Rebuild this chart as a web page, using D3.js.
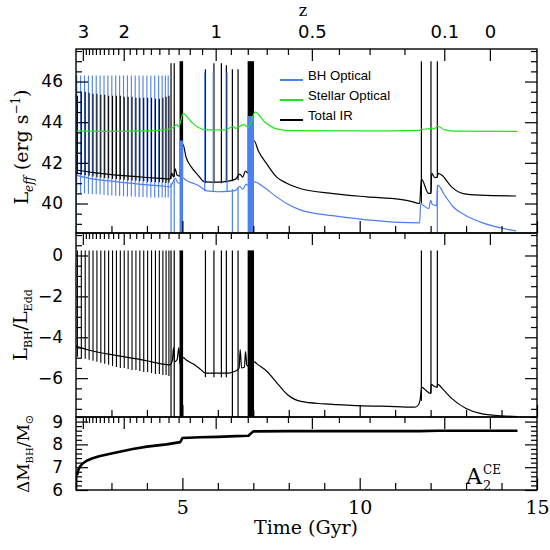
<!DOCTYPE html>
<html><head><meta charset="utf-8">
<script src="https://cdn.jsdelivr.net/npm/d3@7"></script>
<style>body{margin:0;background:#fff}svg{display:block}</style>
</head><body>
<svg id="c" width="550" height="550"></svg>
<script>
// ---------------- DATA ----------------
// time (Gyr) tick values
const timeMajor = [5, 10, 15];
const timeMinor = [3, 4, 6, 7, 8, 9, 11, 12, 13, 14];
// redshift ticks (label, time in Gyr)
const zLabels = ["3", "2", "1", "0.5", "0.1", "0"];
const zLabelTimes = [2.193, 3.346, 5.939, 8.651, 12.385, 13.671];
const zMinorTimes = [2.277, 2.366, 2.461, 2.562, 2.671, 2.787, 2.912, 3.046, 3.190,
  3.515, 3.698, 3.896, 4.113, 4.350, 4.609, 4.894, 5.208, 5.555,
  6.367, 6.844, 7.378, 7.977, 9.414, 10.279, 11.262];

// periodic burst epochs
const burstTimes = [2.04,2.15,2.26,2.37,2.48,2.59,2.70,2.81,2.92,3.03,3.14,3.25,3.36,3.47,3.58,3.69,3.80,3.91,4.02,4.13,4.24,4.35,4.45,4.54,4.62];
const irBurstPeak = [45.3,45.45,45.5,45.45,45.4,45.4,45.35,45.35,45.3,45.3,45.3,45.3,45.25,45.25,45.25,45.2,45.2,45.2,45.2,45.2,45.15,45.15,45.2,45.25,45.3];
const irBurstLow = [41.45,41.42,41.39,41.36,41.33,41.3,41.28,41.26,41.24,41.22,41.2,41.18,41.17,41.15,41.13,41.12,41.1,41.09,41.07,41.06,41.05,41.04,41.03,41.02,41.02];
const bhBurstTimes = [2.02,2.13,2.24,2.35,2.46,2.57,2.68,2.79,2.90,3.01,3.12,3.23,3.34,3.45,3.56,3.67,3.78,3.89,4.00,4.11,4.22,4.33,4.43,4.52,4.60];
const bhBurstPeak = [46.3,46.3,46.3,46.3,46.3,46.3,46.3,46.3,46.3,46.3,46.3,46.3,46.3,46.3,46.3,46.3,46.3,46.3,46.3,46.3,46.3,46.3,46.3,46.3,46.3];
const bhBurstLow = [40.55,40.5,40.5,40.48,40.46,40.45,40.44,40.42,40.4,40.4,40.38,40.37,40.36,40.35,40.34,40.33,40.32,40.32,40.31,40.3,40.3,40.3,40.3,40.3,40.3];
const eddBurstPeak = [0.25,0.25,0.25,0.25,0.25,0.25,0.25,0.25,0.25,0.25,0.25,0.25,0.25,0.25,0.25,0.25,0.25,0.25,0.25,0.25,0.25,0.25,0.25,0.25,0.25];
const eddBurstLow = [-4.95,-5.0,-5.05,-5.1,-5.15,-5.2,-5.25,-5.3,-5.35,-5.4,-5.45,-5.5,-5.5,-5.55,-5.6,-5.6,-5.65,-5.7,-5.7,-5.75,-5.8,-5.8,-5.85,-5.85,-5.9];

// individual later spikes [t, low, high]
const irSpikes = [[4.68,41.2,46.9],[4.77,41.3,46.9],[5.65,41.0,46.6],[5.89,41.0,46.9],[6.10,41.0,46.9],[6.24,41.05,46.8],[6.41,41.1,46.6],[6.57,41.15,46.6],[11.74,40.0,47.0],[12.01,40.5,47.0],[12.19,41.28,47.0]];
const bhSpikes = [[2.005,38.55,46.3],[4.68,38.55,41.0],[4.77,38.55,41.2],[5.63,40.6,46.45],[5.87,40.6,46.45],[6.26,40.6,46.45],[6.41,38.55,40.7],[6.57,38.55,40.8],[12.19,38.55,40.9]];
const eddSpikes = [[4.68,-7.9,0.25],[4.77,-7.9,0.25],[5.65,-5.95,0.25],[5.89,-5.95,0.25],[6.10,-5.95,0.25],[6.24,-5.95,0.25],[6.41,-7.9,0.25],[6.57,-7.9,0.25],[11.74,-7.1,0.25],[12.01,-6.75,0.25],[12.19,-6.45,0.25]];
// dense burst episodes [t0, t1, low, high]
const irBands = [[4.92,5.02,41.3,47.0],[6.84,7.02,41.5,47.0]];
const bhBands = [[4.92,5.02,38.55,43.1],[6.84,7.02,38.55,44.3]];
const eddBands = [[4.92,5.02,-7.9,0.25],[6.84,7.02,-7.9,0.25]];

// smooth curves [t, value]
const irCurve = [[2.0,41.65],[2.5,41.52],[3.0,41.42],[3.5,41.35],[4.0,41.28],[4.5,41.22],[4.65,41.2],[4.7,41.5],[4.75,41.3],[4.8,41.7],[4.85,41.4],[4.92,41.35],
  [5.02,42.9],[5.1,42.3],[5.25,41.8],[5.44,41.4],[5.63,41.06],[6.0,41.05],[6.3,41.1],[6.5,41.2],[6.62,41.45],[6.7,41.3],[6.78,41.6],[6.84,41.5],
  [7.02,43.1],[7.14,42.6],[7.38,41.95],[7.66,41.3],[7.94,41.0],[8.32,40.74],[9.25,40.49],[10.2,40.33],[11.14,40.2],[11.5,40.08],[11.69,40.0],
  [11.74,41.2],[11.94,40.5],[12.01,40.5],[12.03,41.48],[12.12,41.28],[12.19,41.3],[12.21,41.48],[12.31,41.4],[12.59,40.82],[12.92,40.49],[13.39,40.41],[14.41,40.37]];
const bhCurve = [[2.0,41.4],[2.5,41.2],[3.0,41.1],[3.5,41.0],[4.0,40.92],[4.5,40.85],[4.65,40.82],[4.72,41.0],[4.8,41.25],[4.86,41.05],[4.92,41.0],
  [5.02,41.25],[5.1,41.15],[5.44,40.9],[5.7,40.62],[6.0,40.58],[6.3,40.6],[6.5,40.65],[6.62,40.85],[6.7,40.7],[6.8,40.95],[6.84,40.9],
  [7.03,41.06],[7.3,40.8],[7.6,40.4],[7.94,40.0],[8.3,39.7],[9.24,39.4],[10.2,39.2],[11.1,39.07],[11.69,39.05],[11.72,40.0],[11.8,39.9],[11.95,39.75],
  [12.0,40.15],[12.05,39.95],[12.17,39.9],[12.2,40.9],[12.4,40.4],[12.64,39.83],[13.0,39.4],[13.39,39.1],[14.41,38.65]];
const starCurve = [[2.0,43.57],[3.0,43.55],[4.0,43.57],[4.6,43.65],[4.75,43.75],[4.84,43.88],[4.9,43.78],[5.02,44.42],[5.26,44.0],[5.44,43.75],[5.68,43.62],[6.2,43.62],
  [6.43,43.78],[6.5,43.7],[6.72,43.88],[6.86,43.75],[7.05,44.5],[7.33,44.0],[7.66,43.67],[8.03,43.59],[10.0,43.57],[11.7,43.6],[11.75,43.65],[11.98,43.68],
  [12.03,43.72],[12.1,43.66],[12.2,43.8],[12.4,43.62],[12.7,43.56],[14.45,43.55]];
const eddCurve = [[2.0,-4.43],[2.3,-4.6],[2.6,-4.72],[3.0,-4.85],[3.5,-5.0],[4.0,-5.15],[4.4,-5.3],[4.65,-5.35],[4.72,-5.1],[4.75,-4.5],[4.78,-5.2],[4.85,-5.1],[4.9,-4.5],[4.93,-5.3],
  [5.03,-5.0],[5.1,-5.1],[5.3,-5.3],[5.5,-5.55],[5.65,-5.75],[6.0,-5.75],[6.3,-5.75],[6.5,-5.65],[6.6,-5.5],[6.63,-4.6],[6.67,-5.5],[6.75,-5.45],[6.78,-4.7],[6.82,-5.4],
  [7.03,-5.2],[7.1,-5.3],[7.38,-5.66],[7.7,-6.3],[7.96,-6.8],[8.34,-7.14],[9.0,-7.26],[9.95,-7.34],[11.0,-7.39],[11.56,-7.42],[11.66,-7.3],[11.7,-7.1],
  [11.75,-6.45],[11.9,-6.65],[12.0,-6.75],[12.02,-6.3],[12.1,-6.4],[12.18,-6.45],[12.2,-6.3],[12.35,-6.55],[12.6,-7.0],[13.0,-7.48],[13.4,-7.72],[14.0,-7.84],[14.45,-7.88]];
const massCurve = [[2.0,6.0],[2.005,6.65],[2.04,6.7],[2.06,6.85],[2.1,7.0],[2.18,7.15],[2.3,7.28],[2.45,7.38],[2.65,7.48],[3.0,7.6],[3.3,7.7],[3.6,7.8],[4.0,7.9],[4.55,8.0],[4.94,8.1],
  [5.0,8.28],[5.5,8.31],[6.0,8.33],[6.5,8.36],[6.86,8.38],[7.0,8.57],[8.0,8.58],[11.7,8.58],[12.2,8.6],[14.45,8.6]];

const legendNames = ["BH Optical", "Stellar Optical", "Total IR"];
const legendColors = ["#4d7ff0", "#1ee61e", "#000000"];

// ---------------- DRAW ----------------
const svg = d3.select("#c");
const BLUE = legendColors[0], GREEN = legendColors[1];
const x = d3.scaleLinear().domain([2, 15]).range([76, 537]);
const y1 = d3.scaleLinear().domain([38.55, 47.6]).range([233, 49]);
const y2 = d3.scaleLinear().domain([-7.9, 1.1]).range([417, 233]);
const y3 = d3.scaleLinear().domain([6, 9.2]).range([490, 417]);

const panels = [
  {y: y1, top: 49, bot: 233, major: [40,42,44,46], minor: [39,39.5,40.5,41,41.5,42.5,43,43.5,44.5,45,45.5,46.5,47,47.5], id: "p1"},
  {y: y2, top: 233, bot: 417, major: [-6,-4,-2,0], minor: [-7.5,-7,-6.5,-5.5,-5,-4.5,-3.5,-3,-2.5,-1.5,-1,-0.5,0.5,1], id: "p2"},
  {y: y3, top: 417, bot: 490, major: [6,7,8,9], minor: [6.2,6.4,6.6,6.8,7.2,7.4,7.6,7.8,8.2,8.4,8.6,8.8,9.2], id: "p3"}
];
const defs = svg.append("defs");
panels.forEach(p => {
  defs.append("clipPath").attr("id", "clip-" + p.id).append("rect")
    .attr("x", x.range()[0]).attr("y", p.top).attr("width", x.range()[1] - x.range()[0]).attr("height", p.bot - p.top);
});

const line = (ys) => d3.line().x(d => x(d[0])).y(d => ys(d[1])).curve(d3.curveMonotoneX);

function spikes(g, ys, list, color, w) {
  g.selectAll(null).data(list).enter().append("line")
    .attr("x1", d => x(d[0])).attr("x2", d => x(d[0]))
    .attr("y1", d => ys(d[1])).attr("y2", d => ys(d[2]))
    .attr("stroke", color).attr("stroke-width", w);
}
function bands(g, ys, list, color) {
  g.selectAll(null).data(list).enter().append("rect")
    .attr("x", d => x(d[0])).attr("width", d => x(d[1]) - x(d[0]))
    .attr("y", d => ys(d[3])).attr("height", d => ys(d[2]) - ys(d[3]))
    .attr("fill", color);
}
const zip3 = (t, lo, hi) => t.map((v, i) => [v, lo[i], hi[i]]);

// Panel 1
const g1 = svg.append("g").attr("clip-path", "url(#clip-p1)");
spikes(g1, y1, zip3(bhBurstTimes, bhBurstLow, bhBurstPeak), BLUE, 1.1);
g1.append("path").datum(irCurve).attr("d", line(y1)).attr("fill", "none").attr("stroke", "#000").attr("stroke-width", 1.2);
spikes(g1, y1, zip3(burstTimes, irBurstLow, irBurstPeak), "#000", 1.1);
spikes(g1, y1, irSpikes, "#000", 1.2);
bands(g1, y1, irBands, "#000");
g1.append("path").datum(bhCurve).attr("d", line(y1)).attr("fill", "none").attr("stroke", BLUE).attr("stroke-width", 1.2);
spikes(g1, y1, bhSpikes, BLUE, 1.2);
bands(g1, y1, bhBands, BLUE);
g1.append("path").datum(starCurve).attr("d", line(y1)).attr("fill", "none").attr("stroke", GREEN).attr("stroke-width", 1.2);

// Panel 2
const g2 = svg.append("g").attr("clip-path", "url(#clip-p2)");
g2.append("path").datum(eddCurve).attr("d", line(y2)).attr("fill", "none").attr("stroke", "#000").attr("stroke-width", 1.2);
spikes(g2, y2, zip3(burstTimes, eddBurstLow, eddBurstPeak), "#000", 1.1);
spikes(g2, y2, eddSpikes, "#000", 1.2);
bands(g2, y2, eddBands, "#000");

// Panel 3
const g3 = svg.append("g").attr("clip-path", "url(#clip-p3)");
g3.append("path").datum(massCurve).attr("d", d3.line().x(d => x(d[0])).y(d => y3(d[1])))
  .attr("fill", "none").attr("stroke", "#000").attr("stroke-width", 2.6).attr("stroke-linejoin", "round");

// Axes / frames
const noDomain = g => g.select(".domain").remove();
panels.forEach((p, i) => {
  const tickG = svg.append("g").attr("class", "ticks");
  const add = (axis, tx, ty) => tickG.append("g").attr("transform", `translate(${tx},${ty})`).call(axis).call(noDomain);
  add(d3.axisBottom(x).tickValues(timeMinor).tickSize(-7).tickFormat(""), 0, p.bot);
  add(d3.axisBottom(x).tickValues(timeMajor).tickSize(-12).tickFormat(""), 0, p.bot);
  add(d3.axisTop(x).tickValues(zMinorTimes).tickSize(-6).tickFormat(""), 0, p.top);
  add(d3.axisTop(x).tickValues(zLabelTimes).tickSize(-12).tickFormat(""), 0, p.top);
  add(d3.axisLeft(p.y).tickValues(p.minor).tickSize(-6).tickFormat(""), 76, 0);
  add(d3.axisLeft(p.y).tickValues(p.major).tickSize(-12).tickFormat(""), 76, 0);
  add(d3.axisRight(p.y).tickValues(p.minor).tickSize(-6).tickFormat(""), 537, 0);
  add(d3.axisRight(p.y).tickValues(p.major).tickSize(-12).tickFormat(""), 537, 0);
  tickG.selectAll("line").attr("stroke", "#000").attr("stroke-width", 1.2);
  // y labels
  const lab = svg.append("g").attr("transform", "translate(76,0)")
    .call(d3.axisLeft(p.y).tickValues(p.major).tickSize(0).tickPadding(13).tickFormat(d3.format("d"))).call(noDomain);
  lab.selectAll("text").attr("font-family", "DejaVu Sans").attr("font-size", 17).attr("fill", "#000");
  svg.append("rect").attr("x", 76).attr("y", p.top).attr("width", 461).attr("height", p.bot - p.top)
    .attr("fill", "none").attr("stroke", "#000").attr("stroke-width", 1.4);
});

// bottom time labels
const bl = svg.append("g").attr("transform", "translate(0,490)")
  .call(d3.axisBottom(x).tickValues(timeMajor).tickSize(0).tickPadding(11)).call(noDomain);
bl.selectAll("text").attr("font-family", "DejaVu Serif").attr("font-size", 19).attr("fill", "#000");
// top z labels
const tl = svg.append("g").attr("transform", "translate(0,49)")
  .call(d3.axisTop(x).tickValues(zLabelTimes).tickSize(0).tickPadding(11).tickFormat((d, i) => zLabels[i])).call(noDomain);
tl.selectAll("text").attr("font-family", "DejaVu Sans").attr("font-size", 18).attr("fill", "#000");

// titles
svg.append("text").attr("x", 303).attr("y", 16).attr("text-anchor", "middle")
  .attr("font-family", "DejaVu Serif").attr("font-size", 16).text("z");
svg.append("text").attr("x", 306).attr("y", 534).attr("text-anchor", "middle")
  .attr("font-family", "DejaVu Serif").attr("font-size", 19).text("Time (Gyr)");

const t1 = svg.append("text").attr("transform", "translate(28,147) rotate(-90)").attr("text-anchor", "middle")
  .attr("font-family", "DejaVu Serif").attr("font-size", 19);
t1.append("tspan").text("L");
t1.append("tspan").attr("font-size", 12).attr("font-style", "italic").attr("dy", 5).text("eff");
t1.append("tspan").attr("dy", -5).text(" (erg s");
t1.append("tspan").attr("font-size", 12).attr("dy", -8).text("−1");
t1.append("tspan").attr("dy", 8).text(")");

const t2 = svg.append("text").attr("transform", "translate(27,325) rotate(-90)").attr("text-anchor", "middle")
  .attr("font-family", "DejaVu Serif").attr("font-size", 19);
t2.append("tspan").text("L");
t2.append("tspan").attr("font-size", 11).attr("dy", 5).text("BH");
t2.append("tspan").attr("dy", -5).text("/L");
t2.append("tspan").attr("font-size", 11).attr("dy", 5).text("Edd");

const t3 = svg.append("text").attr("transform", "translate(29,454) rotate(-90)").attr("text-anchor", "middle")
  .attr("font-family", "DejaVu Serif").attr("font-size", 17);
t3.append("tspan").text("ΔM");
t3.append("tspan").attr("font-size", 10).attr("dy", 4).text("BH");
t3.append("tspan").attr("dy", -4).text("/M");
t3.append("tspan").attr("font-family", "DejaVu Sans").attr("font-size", 11).attr("dy", 4).text("⊙");

// A2CE
const ta = svg.append("text").attr("x", 466).attr("y", 484).attr("font-family", "DejaVu Serif").attr("font-size", 22);
ta.append("tspan").text("A");
svg.append("text").attr("x", 483).attr("y", 490).attr("font-family", "DejaVu Serif").attr("font-size", 13).text("2");
svg.append("text").attr("x", 483).attr("y", 474).attr("font-family", "DejaVu Serif").attr("font-size", 12).text("CE");

// legend
const lg = svg.append("g");
legendNames.forEach((n, i) => {
  const yy = 80 + i * 20;
  lg.append("line").attr("x1", 280).attr("x2", 303).attr("y1", yy).attr("y2", yy)
    .attr("stroke", legendColors[i]).attr("stroke-width", 2);
  lg.append("text").attr("x", 308).attr("y", yy).attr("font-family", "Liberation Sans").attr("font-size", 13.2).text(n);
});
</script>
</body></html>
